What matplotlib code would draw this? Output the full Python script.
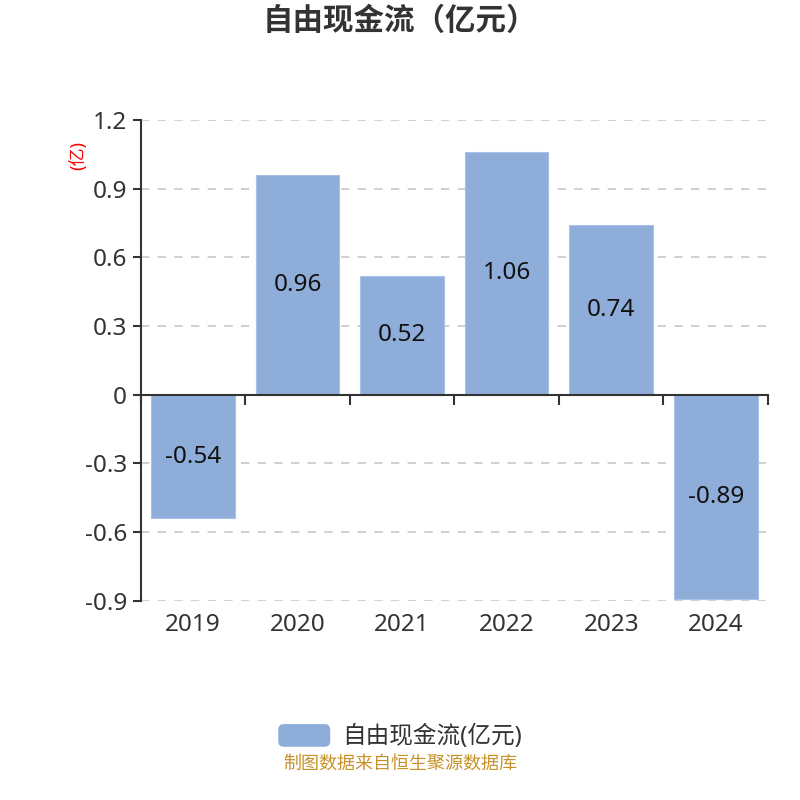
import matplotlib.pyplot as plt
from matplotlib.patches import Patch, FancyBboxPatch
from matplotlib.legend_handler import HandlerPatch

plt.rcParams['font.family'] = ['Noto Sans', 'Noto Sans CJK SC', 'DejaVu Sans']

# data
years = ['2019', '2020', '2021', '2022', '2023', '2024']
fcf = [-0.54, 0.96, 0.52, 1.06, 0.74, -0.89]
yticks = [-0.9, -0.6, -0.3, 0, 0.3, 0.6, 0.9, 1.2]
ytick_labels = ['-0.9', '-0.6', '-0.3', '0', '0.3', '0.6', '0.9', '1.2']

bar_color = '#8eadd9'
text_color = '#333333'

fig = plt.figure(figsize=(8, 8), dpi=100)
ax = fig.add_axes([0.176, 0.249, 0.784, 0.601])

x = list(range(len(years)))
ax.bar(x, fcf, width=0.8, color=bar_color, edgecolor='#a9c1e4', linewidth=0.8, zorder=3)
for xi, v in zip(x, fcf):
    ax.text(xi, v / 2, f'{v:.2f}', ha='center', va='center', fontsize=17.5, color='#111111', zorder=4)

ax.set_xlim(-0.5, len(years) - 0.5)
ax.set_ylim(-0.9, 1.2)
ax.set_yticks(yticks)
ax.set_yticklabels(ytick_labels)
ax.tick_params(axis='y', length=6, width=1.5, color=text_color, labelsize=17.5, labelcolor=text_color, pad=4)
ax.grid(axis='y', linestyle=(0, (5, 5)), color='#c8c8c8', linewidth=1.2, zorder=0)

for s in ['top', 'right']:
    ax.spines[s].set_visible(False)
ax.spines['left'].set_color(text_color)
ax.spines['left'].set_linewidth(1.5)
ax.spines['bottom'].set_position(('data', 0))
ax.spines['bottom'].set_color(text_color)
ax.spines['bottom'].set_linewidth(1.5)
ax.spines['bottom'].set_zorder(5)

# category boundary ticks on the zero line
ax.set_xticks([i - 0.5 for i in range(len(years) + 1)], minor=True)
ax.set_xticks(x)
ax.tick_params(axis='x', which='minor', length=7, width=1.5, color=text_color, direction='out')
ax.tick_params(axis='x', which='major', length=0, labelbottom=False)

# year labels along the bottom of the plot area
sec = ax.secondary_xaxis('bottom')
sec.set_xticks(x)
sec.set_xticklabels(years)
sec.tick_params(length=0, labelsize=17.5, labelcolor=text_color, pad=9)
sec.spines['bottom'].set_visible(False)

ax.text(-0.1, 0.927, '(亿)', transform=ax.transAxes, rotation=90, color='red',
        fontsize=13, ha='center', va='center')

fig.text(0.5, 0.972, '自由现金流（亿元）', ha='center', va='center', fontsize=22,
         fontweight='bold', color=text_color)


class RoundHandler(HandlerPatch):
    def create_artists(self, legend, orig_handle, xdescent, ydescent, width, height, fontsize, trans):
        p = FancyBboxPatch((-xdescent, -ydescent), width, height,
                           boxstyle='round,pad=0,rounding_size=4',
                           facecolor=bar_color, edgecolor='none', transform=trans)
        return [p]


handle = Patch(facecolor=bar_color)
fig.legend([handle], ['自由现金流(亿元)'], loc='center', bbox_to_anchor=(0.5, 0.079),
           frameon=False, fontsize=17, labelcolor=text_color, handlelength=2.2, handleheight=1.1,
           handletextpad=0.5, handler_map={Patch: RoundHandler()})

fig.text(0.5, 0.046, '制图数据来自恒生聚源数据库', ha='center', va='center', fontsize=13, color='#c8922a')

fig.savefig('out.png', dpi=100)
plt.close()
